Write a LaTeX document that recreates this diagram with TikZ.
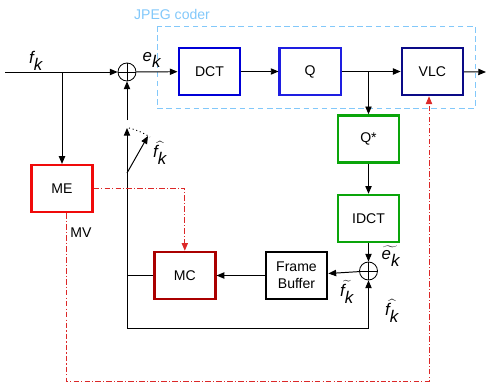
\documentclass[tikz,border=0pt]{standalone}
\usepackage{fontspec}
\setmainfont{Liberation Sans}
\usepackage{tikz}
\usetikzlibrary{arrows.meta,positioning,calc}
\definecolor{dctblue}  {RGB}{0,0,215}
\definecolor{qblue}    {RGB}{30,30,225}
\definecolor{vlcnavy}  {RGB}{10,10,135}
\definecolor{idctgreen}{RGB}{10,165,10}
\definecolor{mered}    {RGB}{240,10,10}
\definecolor{mcred}    {RGB}{170,0,0}
\definecolor{mvred}    {RGB}{220,40,40}
\definecolor{coderblue}{RGB}{130,200,250}
\newcommand{\sym}[2]{\textit{#1}_{\textit{#2}}}
\tikzset{
  mainbox/.style={draw, align=center, minimum width=1.525cm,
                  minimum height=1.175cm, font=\normalsize,
                  inner sep=2pt, line width=1.5pt},
  dctbox/.style ={mainbox, draw=dctblue, line width=2.1pt},
  qbox/.style   ={mainbox, draw=qblue},
  vlcbox/.style ={mainbox, draw=vlcnavy, line width=1.8pt},
  greenbox/.style={mainbox, draw=idctgreen, line width=1.8pt},
  mebox/.style  ={mainbox, draw=mered},
  mcbox/.style  ={mainbox, draw=mcred, line width=1.8pt},
  fbbox/.style  ={mainbox, draw=black, line width=2pt, inner sep=1pt},
  sumnode/.style={draw, circle, minimum size=0.45cm, inner sep=0pt,
                  line width=0.6pt,
                  path picture={\draw[line width=0.6pt]
                    (path picture bounding box.north) -- (path picture bounding box.south)
                    (path picture bounding box.west) -- (path picture bounding box.east);}},
  arr/.style    ={-{Triangle[length=5.5pt,width=4.5pt]}, line width=0.7pt},
  pln/.style    ={line width=0.7pt},
  rarr/.style   ={-{Triangle[length=5.5pt,width=4.5pt]}, draw=mvred, line width=0.6pt,
                  dash pattern=on 4pt off 1.5pt on 0.8pt off 1.5pt},
  coderframe/.style={draw=coderblue, line width=0.6pt, dash pattern=on 4pt off 2.5pt},
  lbl/.style    ={inner sep=0pt, font=\large},
}

\begin{document}
\begin{tikzpicture}[x=0.025cm,y=-0.025cm]
  \useasboundingbox (0,0) rectangle (486,383);
  % JPEG coder frame
  \draw[coderframe] (157,26) rectangle (475,108);
  \node[inner sep=0pt, text=coderblue] (coder) at (172,14) {JPEG coder};
  % forward path
  \node[dctbox] (dct) at (209.5,71.5) {DCT};
  \node[qbox, right=0.925cm of dct] (q) {Q};
  \node[vlcbox, right=1.475cm of q] (vlc) {VLC};
  \node[sumnode] (s1) at (127,72) {};
  \coordinate (in) at (5,72);
  \coordinate (out) at (486,72);
  \coordinate (fsplit) at (62,72);
  \coordinate (qsplit) at (368.5,72);
  \draw[arr] (in) -- (s1);
  \draw[arr] (s1) -- (dct);
  \draw[arr] (dct) -- (q);
  \draw[arr] (q) -- (vlc);
  \draw[arr] (vlc) -- (out);
  \node[lbl] (lfk) at (36,61) {$\sym{f}{k}$};
  \node[lbl] (lek) at (152,60) {$\sym{e}{k}$};
  % inverse path
  \node[greenbox] (qs) at (368.5,139) {Q*};
  \node[greenbox, below=0.75cm of qs] (idct) {IDCT};
  \node[sumnode] (s2) at (368.5,271) {};
  \node[fbbox] (fb) at (296.5,275.5) {Frame\\Buffer};
  \node[mcbox, left=1.2cm of fb] (mc) {MC};
  \node[mebox] (me) at (62,188.5) {ME};
  \draw[arr] (qsplit) -- (qs);
  \draw[arr] (qs) -- (idct);
  \draw[arr] (idct) -- (s2);
  \draw[arr] (s2) -- (fb);
  \draw[arr] (fb) -- (mc);
  \draw[arr] (fsplit) -- (me);
  \node[lbl] (letk) at (391,256) {$\widetilde{\sym{e}{k}}$};
  \node[lbl] (lftk) at (347,292) {$\widetilde{\sym{f}{k}}$};
  \node[lbl] (lfhb) at (392,311) {$\widehat{\sym{f}{k}}$};
  % prediction loop and switch
  \coordinate (mcl) at (127,275.5);
  \coordinate (lbl1) at (127,328);
  \coordinate (swtop) at (127,128);
  \coordinate (swbase) at (127,173);
  \coordinate (swtip) at (148,136);
  \coordinate (swout) at (127,120);
  \draw[pln] (mc) -- (mcl);
  \draw[arr] (lbl1) -- (swtop);
  \draw[arr] (lbl1) -| (s2);
  \draw[arr] (swbase) -- (swtip);
  \draw[line width=0.7pt, dotted] (129,128) to[bend left=8] (150,137);
  \draw[arr] (swout) -- (s1);
  \node[lbl] (lfh) at (160,153) {$\widehat{\sym{f}{k}}$};
  % motion vectors
  \coordinate (mebot) at (66,212);
  \coordinate (mvc2) at (429,381);
  \coordinate (vlcin) at (429,95);
  \draw[rarr] (me.east |- 0,188) -| (mc);
  \draw[rarr] (me.south -| mebot) |- (mvc2) -- (vlc.south -| vlcin);
  \node[inner sep=0pt] (lmv) at (81,233) {MV};
\end{tikzpicture}
\end{document}
